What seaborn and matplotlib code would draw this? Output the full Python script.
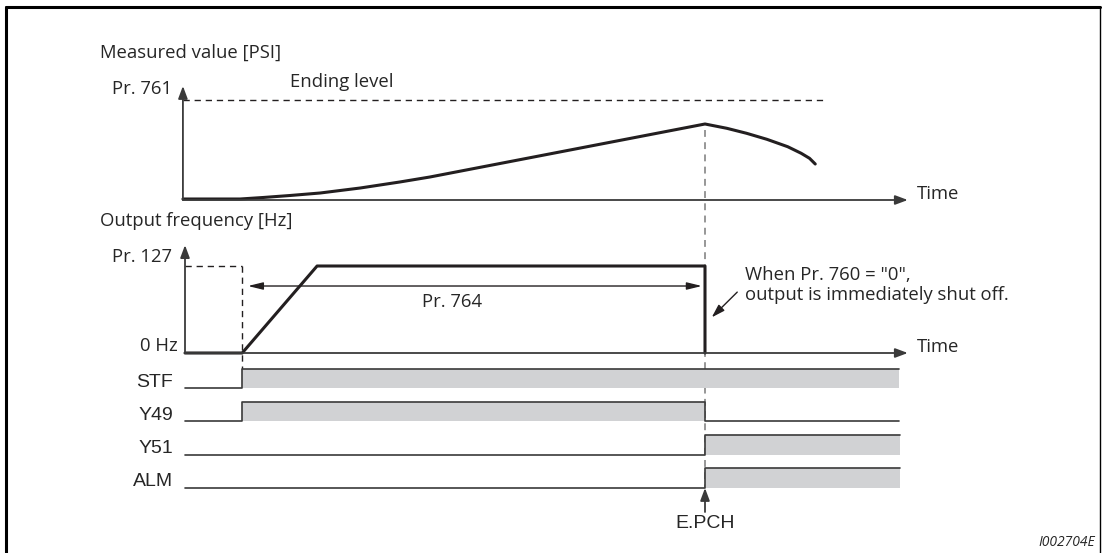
import matplotlib
matplotlib.use("Agg")
import matplotlib.pyplot as plt
from matplotlib.lines import Line2D
import seaborn as sns

# time is in arbitrary units, trip (E.PCH) happens at t = 10
pressure_t = [-0.04, 1.06, 1.5, 2.02, 2.6, 3.37, 4.13, 4.71, 10.0,
              10.42, 10.80, 11.19, 11.59, 11.85, 12.01, 12.12]
pressure_v = [0.01, 0.01, 0.025, 0.045, 0.07, 0.12, 0.18, 0.23, 0.76,
              0.717, 0.667, 0.607, 0.533, 0.467, 0.417, 0.36]
ending_level = 1.0

freq_t = [0.0, 1.1, 2.54, 10.0, 10.0]
freq_v = [0.0, 0.0, 1.0, 1.0, 0.0]

stf_on = 1.1
trip_t = 10.0
time_end = 13.9

signal_names = ["STF", "Y49", "Y51", "ALM"]
signal_t = [
    [0.0, 1.1, 1.1, 13.73],
    [0.0, 1.1, 1.1, 10.0, 10.0, 13.73],
    [0.0, 10.0, 10.0, 13.75],
    [0.0, 10.0, 10.0, 13.75],
]
signal_lvl = [
    [0, 0, 1, 1],
    [0, 0, 1, 1, 0, 0],
    [0, 0, 1, 1],
    [0, 0, 1, 1],
]

W, H = 1103, 553
INK = "#231f20"
AX = "#3a3a3a"
GRAY = "#d1d2d4"
FS = 13.3
FS_SIG = 14

sns.set_style("white")
plt.rcParams["font.family"] = ["Open Sans", "DejaVu Sans"]
ARIAL = ["Liberation Sans", "DejaVu Sans"]

fig = plt.figure(figsize=(W / 100, H / 100), dpi=100)

# x mapping shared: px = 185 + 52 * t
XL = (-185 / 52, (W - 185) / 52)


def make_ax(ylim):
    ax = fig.add_axes([0, 0, 1, 1])
    ax.set_xlim(*XL)
    ax.set_ylim(*ylim)
    ax.set_axis_off()
    ax.patch.set_alpha(0)
    return ax


ax_p = make_ax(((200 - H) / 100, 2.0))       # pressure: 0 -> 200px, 1 -> 100px
ax_f = make_ax(((353 - H) / 87, 353 / 87))   # frequency: 0 -> 353px, 1 -> 266px
ax_s = make_ax(((388 - H) / 33.3, 388 / 33.3))  # signal rows

head = dict(arrowstyle="-|>,head_length=0.75,head_width=0.28", color=AX, lw=1.3,
            shrinkA=0, shrinkB=0)

# ---- pressure panel
ax_p.annotate("", xy=(-0.04, 1.14), xytext=(-0.04, 0), arrowprops=head)
ax_p.annotate("", xy=(time_end, 0), xytext=(-0.04, 0), arrowprops=head)
ax_p.plot([-0.04, 12.35], [ending_level, ending_level], color=INK, lw=1.0,
          dashes=(4.5, 3.5))
sns.lineplot(x=pressure_t, y=pressure_v, sort=False, estimator=None, ax=ax_p,
             color=INK, lw=2.2)
ax_p.text(-1.63, 1.47, "Measured value [PSI]", fontsize=FS, va="center", ha="left")
ax_p.text(-0.25, 1.11, "Pr. 761", fontsize=FS, va="center", ha="right")
ax_p.text(2.02, 1.18, "Ending level", fontsize=FS, va="center", ha="left")
ax_p.text(14.07, 0.06, "Time", fontsize=FS, va="center", ha="left")

# ---- frequency panel
ax_f.annotate("", xy=(0, 1.24), xytext=(0, 0), arrowprops=head)
ax_f.annotate("", xy=(time_end, 0), xytext=(0, 0), arrowprops=head)
ax_f.plot([0, stf_on], [1, 1], color=INK, lw=1.0, dashes=(4.5, 3.5))
ax_f.plot([stf_on, stf_on], [1, (353 - 369) / 87], color=INK, lw=1.0, dashes=(4.5, 3.5))
ax_f.plot([trip_t, trip_t], [(353 - 130) / 87, (353 - 488) / 87], color="#7a7a7a",
          lw=1.1, dashes=(4.5, 3.5))
sns.lineplot(x=freq_t, y=freq_v, sort=False, estimator=None, ax=ax_f,
             color=INK, lw=2.2)
ax_f.annotate("", xy=(1.21, 0.77), xytext=(9.94, 0.77),
              arrowprops=dict(arrowstyle="<|-|>,head_length=0.9,head_width=0.22",
                              color=INK, lw=1.0, shrinkA=0, shrinkB=0))
ax_f.annotate("", xy=(10.13, 0.41), xytext=(10.62, 0.70),
              arrowprops=dict(arrowstyle="-|>,head_length=0.8,head_width=0.25",
                              color=INK, lw=1.0, shrinkA=0, shrinkB=0))
ax_f.text(-1.63, (353 - 221) / 87, "Output frequency [Hz]", fontsize=FS,
          va="center", ha="left")
ax_f.text(-0.25, (353 - 257) / 87, "Pr. 127", fontsize=FS, va="center", ha="right")
ax_f.text(-0.13, (353 - 346) / 87, "0 Hz", fontsize=FS, va="center", ha="right")
ax_f.text(5.13, (353 - 302) / 87, "Pr. 764", fontsize=FS, va="center", ha="center")
ax_f.text(10.77, (353 - 275) / 87, 'When Pr. 760 = "0",', fontsize=FS,
          va="center", ha="left")
ax_f.text(10.77, (353 - 295) / 87, "output is immediately shut off.", fontsize=FS,
          va="center", ha="left")
ax_f.text(14.07, (353 - 347) / 87, "Time", fontsize=FS, va="center", ha="left")

# ---- signal rows
high = 19.5 / 33.3
for i, (name, ts, lv) in enumerate(zip(signal_names, signal_t, signal_lvl)):
    base = -i
    ys = [base + l * high for l in lv]
    ax_s.fill_between(ts, base, ys, color=GRAY, lw=0)
    sns.lineplot(x=ts, y=ys, sort=False, estimator=None, ax=ax_s, color=AX, lw=1.2)
    ax_s.text(-0.23, base + 0.18, name, fontsize=FS_SIG, va="center", ha="right",
              family=ARIAL)

ax_s.annotate("", xy=(trip_t, (388 - 488) / 33.3), xytext=(trip_t, (388 - 512) / 33.3),
              arrowprops=head)
ax_s.text(trip_t, (388 - 523) / 33.3, "E.PCH", fontsize=FS_SIG, va="center",
          ha="center", family=ARIAL)
ax_s.text((1095 - 185) / 52, (388 - 542) / 33.3, "I002704E", fontsize=10,
          va="center", ha="right", style="italic")

# frame around the diagram
fig.add_artist(Line2D([6 / W, 6 / W], [0, 1 - 7 / H], color="black", lw=2.2,
                      transform=fig.transFigure))
fig.add_artist(Line2D([6 / W, 1100 / W], [1 - 7 / H, 1 - 7 / H], color="black", lw=2.2,
                      transform=fig.transFigure))
fig.add_artist(Line2D([1100 / W, 1100 / W], [0, 1 - 7 / H], color="black", lw=1.0,
                      transform=fig.transFigure))

fig.savefig("out.png", dpi=100)
